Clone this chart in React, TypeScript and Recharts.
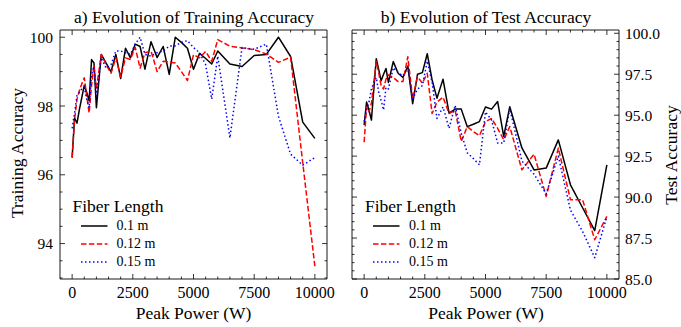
import { LineChart, Line, XAxis, YAxis } from 'recharts'

// peak power grid (W)
const POWER = [
  0, 100, 200, 300, 400, 500, 600, 700, 800, 900, 1000,
  1200, 1400, 1600, 1800, 2000, 2200, 2400, 2600, 2800, 3000,
  3250, 3500, 3750, 4000, 4250, 4500, 4750, 5000, 5250, 5500, 5750, 6000,
  6500, 7000, 7500, 8000, 8500, 9000, 9500, 10000,
]

const TRAIN_010 = [
  96.5, 97.65, 97.5, 97.9, 98.25, 98.6, 98.4, 98.15, 99.35, 99.25, 97.95,
  99.5, 99.25, 99.0, 99.5, 98.8, 99.68, 99.4, 99.8, 99.73, 99.07,
  99.87, 99.41, 99.73, 98.92, 100.0, 99.85, 99.68, 99.07, 99.53, 99.38, 99.22, 99.6,
  99.22, 99.15, 99.47, 99.5, 100.0, 99.44, 97.53, 97.06,
]
const TRAIN_012 = [
  96.5, 97.6, 98.2, 98.45, 98.65, 98.82, 98.3, 97.8, 98.6, 99.2, 98.5,
  99.5, 99.2, 98.95, 99.4, 98.85, 99.4, 99.35, 99.7, 99.1, 99.55,
  99.6, 99.0, 99.3, 99.28, 99.25, 99.0, 98.74, 99.49, 99.4, 99.59, 99.3, 99.93,
  99.74, 99.69, 99.64, 99.51, 99.27, 99.42, 96.35, 93.34,
]
const TRAIN_015 = [
  97.35, 97.8, 98.3, 98.4, 98.5, 98.55, 98.2, 97.95, 98.9, 99.15, 98.3,
  99.4, 99.1, 99.2, 99.6, 99.6, 99.55, 99.5, 99.8, 100.0, 99.5,
  99.45, 99.55, 99.6, 99.74, 99.75, 99.85, 99.9, 99.7, 99.55, 99.2, 98.2, 99.45,
  97.07, 99.7, 99.65, 99.8, 97.7, 96.6, 96.28, 96.5,
]

const TEST_010 = [
  94.4, 95.8, 95.3, 94.7, 96.6, 98.45, 97.8, 97.1, 97.5, 97.85, 97.0,
  98.27, 97.56, 97.3, 98.0, 95.7, 97.5, 97.6, 98.75, 97.15, 96.04,
  97.2, 95.12, 95.37, 95.37, 94.3, 94.45, 94.61, 95.5, 95.37, 95.83, 93.7, 95.52,
  93.0, 91.66, 91.77, 93.49, 90.75, 89.35, 87.95, 91.97,
]
const TEST_012 = [
  93.35, 95.5, 95.2, 95.73, 97.0, 98.27, 97.6, 96.8, 96.6, 97.2, 97.46,
  97.3, 97.05, 97.05, 98.57, 96.0, 97.35, 96.95, 97.56, 95.1, 95.8,
  96.1, 95.1, 95.3, 93.4, 94.3, 94.0, 93.75, 94.6, 94.8, 94.2, 93.5, 94.3,
  91.66, 92.62, 90.04, 92.99, 89.84, 89.84, 87.4, 88.82,
]
const TEST_015 = [
  94.61, 95.3, 95.8, 96.6, 97.0, 97.3, 96.4, 95.9, 95.32, 96.7, 96.6,
  97.9, 97.6, 97.4, 97.9, 96.0, 96.6, 96.8, 98.3, 97.0, 94.8,
  95.5, 94.2, 95.6, 93.9, 92.7, 92.35, 91.97, 95.2, 94.7, 93.3, 93.3, 95.4,
  92.2, 91.4, 90.2, 92.5, 89.2, 87.9, 86.3, 88.8,
]

const LENGTHS = ['0.1 m', '0.12 m', '0.15 m']
const COLORS = ['#000000', '#ff0000', '#0000ff']
const DASHES = [undefined, '5.5 2.4', '1.5 2.5']

const X_MAJOR = [0, 2500, 5000, 7500, 10000]
const TRAIN_MAJOR = [94, 96, 98, 100]
const TEST_MAJOR = [85, 87.5, 90, 92.5, 95, 97.5, 100]

const range = (a: number, b: number, s: number) => {
  const out: number[] = []
  for (let v = a; v <= b + 1e-9; v += s) out.push(Math.round(v * 100) / 100)
  return out
}
const X_TICKS = range(0, 10000, 500)
const TRAIN_TICKS = range(93, 100, 0.5)
const TEST_TICKS = range(85, 100, 0.5)

const FONT = '"Liberation Serif", serif'
const MAJOR_LEN = 5
const MINOR_LEN = 2.5

const trainData = POWER.map((p, i) => ({ p, a: TRAIN_010[i], b: TRAIN_012[i], c: TRAIN_015[i] }))
const testData = POWER.map((p, i) => ({ p, a: TEST_010[i], b: TEST_012[i], c: TEST_015[i] }))

type Side = 'bottom' | 'top' | 'left' | 'right'

// one tick renderer per side: inward tick line (major/minor) + optional label
const makeTick = (side: Side, majors: number[], label: boolean, fmt = (v: number) => String(v)) =>
  (props: any) => {
    const { x, y, payload } = props
    const v = payload.value
    const major = majors.includes(v)
    const len = major ? MAJOR_LEN : MINOR_LEN
    let line
    let text = null
    if (side === 'bottom') {
      line = <line x1={x} y1={y} x2={x} y2={y - len} stroke="#000" strokeWidth={0.8} />
      if (label && major) text = <text x={x} y={y + 19} textAnchor="middle" fontSize={16} fontFamily={FONT} fill="#000">{fmt(v)}</text>
    } else if (side === 'top') {
      line = <line x1={x} y1={y} x2={x} y2={y + len} stroke="#000" strokeWidth={0.8} />
    } else if (side === 'left') {
      line = <line x1={x} y1={y} x2={x + len} y2={y} stroke="#000" strokeWidth={0.8} />
      if (label && major) text = <text x={x - 7} y={y + 5.5} textAnchor="end" fontSize={15.5} fontFamily={FONT} fill="#000">{fmt(v)}</text>
    } else {
      line = <line x1={x} y1={y} x2={x - len} y2={y} stroke="#000" strokeWidth={0.8} />
      if (label && major) text = <text x={x + 6} y={y + 5.5} textAnchor="start" fontSize={15.5} fontFamily={FONT} fill="#000">{fmt(v)}</text>
    }
    return (
      <g>
        {line}
        {text}
      </g>
    )
  }

function Legend({ left }: { left: number }) {
  return (
    <div style={{ position: 'absolute', left, top: 196, fontFamily: FONT, color: '#000' }}>
      <div style={{ fontSize: 17.5, lineHeight: '21px', height: 21 }}>Fiber Length</div>
      {LENGTHS.map((name, i) => (
        <div key={name} style={{ display: 'flex', alignItems: 'center', height: 18, fontSize: 14 }}>
          <svg width={44} height={18} style={{ display: 'block' }}>
            <line x1={8} y1={9} x2={34.5} y2={9} stroke={COLORS[i]} strokeWidth={1.5} strokeDasharray={DASHES[i]} />
          </svg>
          <span>{name}</span>
        </div>
      ))}
    </div>
  )
}

function axes(ticks: number[], majors: number[], domain: number[], rightLabels: boolean, fmt?: (v: number) => string) {
  const common = { type: 'number' as const, interval: 0, tickSize: 0, tickMargin: 0, tickLine: false, axisLine: { stroke: '#000', strokeWidth: 0.9 } }
  return [
    <XAxis key="xb" xAxisId="b" orientation="bottom" dataKey="p" domain={[-500, 10500]} allowDataOverflow ticks={X_TICKS} height={48} tick={makeTick('bottom', X_MAJOR, true)} {...common} />,
    <XAxis key="xt" xAxisId="t" orientation="top" dataKey="p" domain={[-500, 10500]} allowDataOverflow ticks={X_TICKS} height={1} tick={makeTick('top', X_MAJOR, false)} {...common} />,
    <YAxis key="yl" yAxisId="l" orientation="left" domain={domain} allowDataOverflow ticks={ticks} width={rightLabels ? 1 : 60} tick={makeTick('left', majors, !rightLabels, fmt)} {...common} />,
    <YAxis key="yr" yAxisId="r" orientation="right" domain={domain} allowDataOverflow ticks={ticks} width={rightLabels ? 62 : 1} tick={makeTick('right', majors, rightLabels, fmt)} {...common} />,
  ]
}

function seriesLines() {
  return ['a', 'b', 'c'].map((k, i) => (
    <Line
      key={k}
      xAxisId="b"
      yAxisId="l"
      dataKey={k}
      stroke={COLORS[i]}
      strokeWidth={1.5}
      strokeDasharray={DASHES[i]}
      dot={false}
      activeDot={false}
      isAnimationActive={false}
      strokeLinejoin="round"
    />
  ))
}

export default function App() {
  const label: React.CSSProperties = { position: 'absolute', fontFamily: FONT, fontSize: 17.5, lineHeight: '18px', color: '#000', whiteSpace: 'nowrap' }
  return (
    <div style={{ position: 'absolute', left: 0, top: 0, width: 681, height: 327, background: '#fff', overflow: 'hidden' }}>
      <div style={{ position: 'absolute', left: 0, top: 0 }}>
        <LineChart width={340} height={327} data={trainData} margin={{ top: 29, right: 12, bottom: 0, left: 0 }}>
          {axes(TRAIN_TICKS, TRAIN_MAJOR, [92.97, 100.21], false)}
          {seriesLines()}
        </LineChart>
      </div>
      <div style={{ position: 'absolute', left: 340, top: 0 }}>
        <LineChart width={341} height={327} data={testData} margin={{ top: 29, right: 0, bottom: 0, left: 11 }}>
          {axes(TEST_TICKS, TEST_MAJOR, [85, 100.2], true, (v: number) => v.toFixed(1))}
          {seriesLines()}
        </LineChart>
      </div>

      <div style={{ ...label, left: 194, top: 8, transform: 'translateX(-50%)' }}>a) Evolution of Training Accuracy</div>
      <div style={{ ...label, left: 486, top: 8, transform: 'translateX(-50%)' }}>b) Evolution of Test Accuracy</div>
      <div style={{ ...label, left: 193.5, top: 304, transform: 'translateX(-50%)' }}>Peak Power (W)</div>
      <div style={{ ...label, left: 486, top: 304, transform: 'translateX(-50%)' }}>Peak Power (W)</div>
      <div style={{ ...label, left: 17, top: 153, transform: 'translate(-50%, -50%) rotate(-90deg)' }}>Training Accuracy</div>
      <div style={{ ...label, left: 671, top: 155, transform: 'translate(-50%, -50%) rotate(-90deg)' }}>Test Accuracy</div>

      <Legend left={72.5} />
      <Legend left={365} />
    </div>
  )
}
